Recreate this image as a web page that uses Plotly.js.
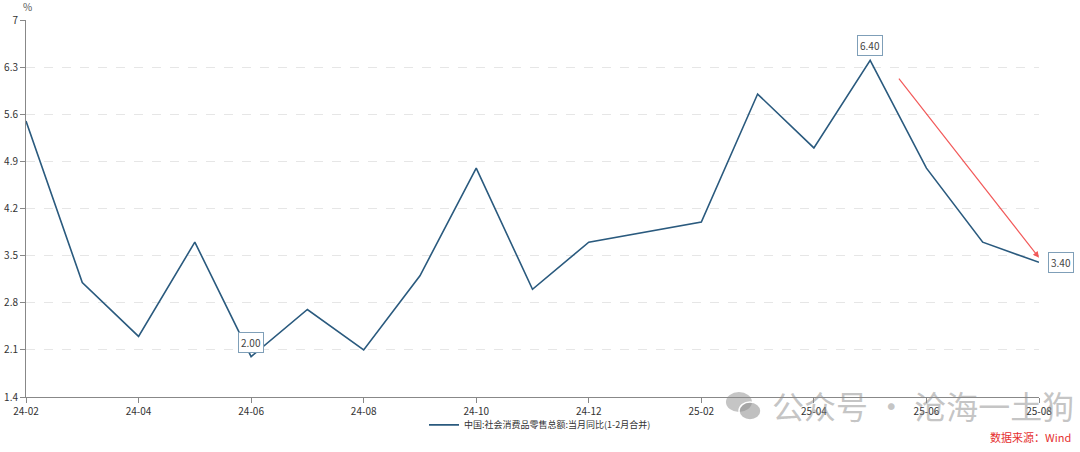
<!DOCTYPE html>
<html>
<head>
<meta charset="utf-8">
<script src="https://cdn.plot.ly/plotly-3.0.1.min.js"></script>
<style>html,body{margin:0;padding:0;background:#fff;}#chart{width:1080px;height:452px;}</style>
</head>
<body>
<div id="chart"></div>
<script>
const months = ["24-02","24-03","24-04","24-05","24-06","24-07","24-08","24-09","24-10","24-11","24-12","25-01","25-02","25-03","25-04","25-05","25-06","25-07","25-08"];
const values = [5.5,3.1,2.3,3.7,2.0,2.7,2.1,3.2,4.8,3.0,3.7,null,4.0,5.9,5.1,6.4,4.8,3.7,3.4];
const seriesName = "中国:社会消费品零售总额:当月同比(1-2月合并)";
const yTicks = [1.4,2.1,2.8,3.5,4.2,4.9,5.6,6.3,7];
const labelled = ["24-06","25-05","25-08"];

const font = "Noto Sans CJK SC, Noto Sans, sans-serif";
const lineColor = "#2a5a7e";

const trace = {
  x: months, y: values, type: "scatter", mode: "lines",
  name: seriesName, connectgaps: true,
  line: {color: lineColor, width: 1.6}
};

const annotations = labelled.map(m => {
  const i = months.indexOf(m);
  const v = values[i];
  const isLast = m === "25-08";
  return {
    x: m, y: v, xref: "x", yref: "y",
    text: v.toFixed(2), showarrow: false,
    xanchor: isLast ? "left" : "center",
    yanchor: isLast ? "middle" : "bottom",
    xshift: isLast ? 9 : 0, yshift: isLast ? 0 : 4,
    font: {family: font, size: 10, color: "#444"},
    bgcolor: "#fff", bordercolor: "#7f9fb8", borderwidth: 1, borderpad: 2
  };
});

annotations.push({
  x: 18.0, y: 3.47, ax: 15.49, ay: 6.15, xref: "x", yref: "y", axref: "x", ayref: "y",
  showarrow: true, arrowhead: 2, arrowsize: 1, arrowwidth: 1.2, arrowcolor: "rgba(240,50,50,0.8)", text: ""
});
annotations.push({
  x: 1, y: 0, xref: "paper", yref: "paper", yshift: -50, xshift: 34,
  text: "数据来源：Wind", showarrow: false, xanchor: "right", yanchor: "bottom",
  font: {family: font, size: 11, color: "#e53030"}
});
annotations.push({
  x: 0.734, y: 0, xref: "paper", yref: "paper", yshift: -33,
  text: "公众号 · 沧海一土狗", showarrow: false, xanchor: "left", yanchor: "bottom",
  font: {family: font, size: 32, color: "rgba(140,140,140,0.5)"}
});
annotations.push({
  x: 0, y: 1, xref: "paper", yref: "paper", xshift: 1, yshift: 4,
  text: "%", showarrow: false, xanchor: "center", yanchor: "bottom",
  font: {family: font, size: 10, color: "#555"}
});

const layout = {
  width: 1080, height: 452,
  margin: {l: 26, r: 41, t: 20, b: 55},
  paper_bgcolor: "#fff", plot_bgcolor: "#fff",
  font: {family: font, size: 10, color: "#333"},
  showlegend: true,
  legend: {orientation: "h", x: 0.5, xanchor: "center", xref: "container",
           y: 0.06, yanchor: "middle", yref: "container", bgcolor: "rgba(0,0,0,0)",
           font: {family: font, size: 9, color: "#333"}},
  xaxis: {
    type: "category", range: [0, 18], dtick: 2, tick0: 0,
    showgrid: false, showline: true, linecolor: "#888", linewidth: 1,
    ticks: "outside", ticklen: 5, tickcolor: "#888", zeroline: false,
    tickfont: {family: font, size: 10, color: "#333"}
  },
  yaxis: {
    range: [1.4, 7], tickvals: yTicks, ticktext: yTicks.map(String),
    showgrid: true, gridcolor: "#e6e6e6", griddash: "dash", gridwidth: 1,
    showline: true, linecolor: "#888", linewidth: 1,
    ticks: "outside", ticklen: 5, tickcolor: "#888", zeroline: false,
    tickfont: {family: font, size: 10, color: "#333"}
  },
  annotations: annotations,
  shapes: [
    {type: "circle", xref: "paper", yref: "paper", xsizemode: "pixel", ysizemode: "pixel",
     xanchor: 0.7038, yanchor: -0.0133, x0: -13, x1: 13, y0: -10, y1: 10,
     fillcolor: "rgba(140,140,140,0.5)", line: {width: 0}, layer: "above"},
    {type: "circle", xref: "paper", yref: "paper", xsizemode: "pixel", ysizemode: "pixel",
     xanchor: 0.7147, yanchor: -0.0371, x0: -11, x1: 11, y0: -9, y1: 9,
     fillcolor: "rgba(140,140,140,0.55)", line: {color: "#fff", width: 1.5}, layer: "above"}
  ]
};

Plotly.newPlot("chart", [trace], layout, {displayModeBar: false, staticPlot: true});
</script>
</body>
</html>
